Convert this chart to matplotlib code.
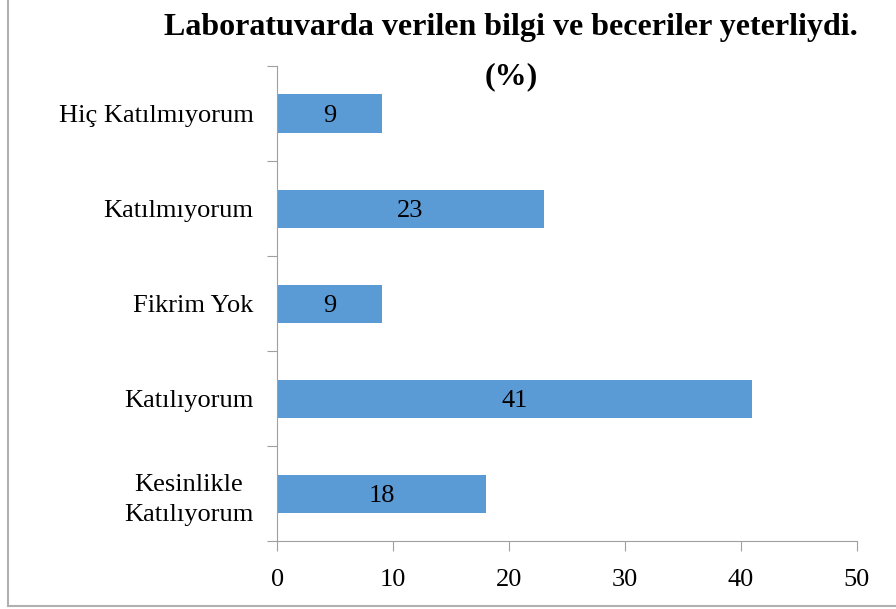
import matplotlib.pyplot as plt
from matplotlib.lines import Line2D

# veriler
categories = ["Kesinlikle\nKatılıyorum", "Katılıyorum", "Fikrim Yok",
              "Katılmıyorum", "Hiç Katılmıyorum"]
values = [18, 41, 9, 23, 9]
xticks = [0, 10, 20, 30, 40, 50]

plt.rcParams['font.family'] = ['Liberation Serif', 'DejaVu Serif']

W, H = 896, 609
fig = plt.figure(figsize=(W / 100, H / 100), dpi=100)
ax = fig.add_axes([277.3 / W, 1 - 541 / H, (856.7 - 277.3) / W, (541 - 66) / H])

pos = list(range(len(categories)))
ax.barh(pos, values, height=0.4, color='#5B9BD5')
ax.set_ylim(-0.5, len(categories) - 0.5)
ax.set_xlim(0, 50)

# değer etiketleri
for p, v in zip(pos, values):
    ax.text(v / 2, p, str(v), ha='center', va='center_baseline', fontsize=19)

ax.set_xticks(xticks)
ax.set_xticklabels([str(t) for t in xticks], fontsize=19)
ax.set_yticks([-0.5] + [p + 0.5 for p in pos])
ax.set_yticklabels([''] * (len(pos) + 1))
ax.set_yticks(pos, minor=True)
labels = ax.set_yticklabels(categories, minor=True, fontsize=19, ha='right',
                            multialignment='center')
for lab in labels:
    lab.set_linespacing(1.5)

gray = '#A0A0A0'
for s in ['top', 'right']:
    ax.spines[s].set_visible(False)
for s in ['left', 'bottom']:
    ax.spines[s].set_color(gray)
ax.tick_params(axis='both', which='major', color=gray, length=7, direction='out')
ax.tick_params(axis='y', which='minor', length=0, pad=17)
ax.tick_params(axis='x', pad=13)

# başlık
fig.text(511 / W, 1 - 27 / H, "Laboratuvarda verilen bilgi ve beceriler yeterliydi.",
         ha='center', va='center', fontsize=23, fontweight='bold')
fig.text(511 / W, 1 - 77 / H, "(%)", ha='center', va='center',
         fontsize=23, fontweight='bold')

# çerçeve
fig.add_artist(Line2D([7.5 / W, 7.5 / W], [1 - 606 / H, 1], color='#B0B0B0', lw=1.5))
fig.add_artist(Line2D([7.5 / W, 1], [1 - 606 / H, 1 - 606 / H], color='#B0B0B0', lw=1.5))

fig.savefig('out.png', dpi=100)
